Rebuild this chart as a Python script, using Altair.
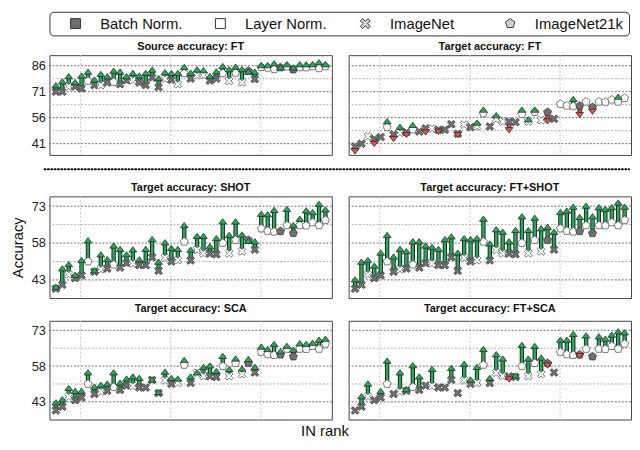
import altair as alt
import pandas as pd

# ---------------- data ----------------
IN_RANK = list(range(1, 44))
NORM = ["BN", "BN", "LN", "BN", "BN", "LN", "BN", "LN", "BN", "LN",
        "BN", "BN", "LN", "BN", "BN", "BN", "BN", "LN", "BN", "LN",
        "LN", "BN", "LN", "LN", "BN", "BN", "LN", "LN", "LN", "LN",
        "BN", "BN", "LN", "LN", "LN", "BN", "LN", "BN", "LN", "LN",
        "LN", "LN", "LN"]
PRETRAIN = ["IN", "IN", "IN", "IN", "IN", "IN21k", "IN", "IN", "IN", "IN21k",
            "IN", "IN", "IN", "IN", "IN", "IN", "IN", "IN", "IN", "IN",
            "IN21k", "IN", "IN", "IN", "IN", "IN", "IN21k", "IN", "IN21k", "IN",
            "IN21k", "IN", "IN21k", "IN21k", "IN21k", "IN21k", "IN21k", "IN21k", "IN21k", "IN21k",
            "IN21k", "IN21k", "IN21k"]

SRC_BASE = [71.0, 71.0, 74.0, 74.0, 72.9, 77.2, 74.8, 74.8, 76.3, 76.6,
            75.3, 77.6, 77.8, 76.3, 74.8, 79.1, 73.6, 78.5, 77.8, 75.3,
            81.6, 78.5, 80.4, 80.6, 77.4, 78.5, 81.6, 77.2, 81.9, 76.3,
            83.0, 78.3, 85.2, 84.8, 84.0, 85.0, 85.5, 83.8, 85.0, 85.0,
            85.6, 84.5, 85.6]
SRC_FT = [76.3, 78.5, 81.5, 78.1, 81.9, 84.1, 79.6, 82.8, 81.5, 84.7,
          84.1, 81.5, 83.4, 81.9, 83.4, 85.3, 80.4, 83.8, 83.4, 83.4,
          86.8, 83.6, 85.4, 85.0, 81.6, 84.3, 87.4, 85.6, 87.0, 85.6,
          84.1, 84.1, 87.9, 87.9, 89.0, 86.6, 88.4, 86.6, 88.4, 88.4,
          88.4, 89.6, 88.4]

TGT_BASE = [39.4, 41.0, 45.2, 43.7, 44.8, 50.5, 46.3, 47.3, 47.6, 49.2,
            48.0, 49.8, 49.7, 49.0, 49.0, 52.2, 46.7, 52.0, 50.5, 51.0,
            58.5, 50.9, 55.2, 53.8, 53.7, 53.4, 58.0, 53.8, 59.2, 54.6,
            59.2, 55.3, 63.9, 62.9, 62.6, 62.8, 65.2, 62.0, 65.2, 65.1,
            66.4, 65.2, 67.3]
TGT_FT = [35.0, 41.0, 45.2, 39.3, 44.8, 55.5, 42.1, 52.3, 44.4, 53.4,
          48.0, 45.9, 49.7, 46.3, 49.0, 52.2, 44.4, 52.0, 50.5, 54.7,
          62.2, 50.9, 59.0, 53.8, 47.2, 53.4, 62.2, 56.6, 62.2, 54.6,
          52.3, 55.3, 63.9, 62.9, 68.4, 56.0, 65.2, 57.9, 65.2, 65.1,
          66.4, 69.7, 67.3]
TGT_SHOT = [41.3, 48.8, 50.5, 46.2, 52.2, 60.2, 48.0, 54.5, 52.6, 58.1,
            56.7, 54.5, 56.5, 52.5, 56.7, 60.7, 51.5, 59.4, 57.1, 56.7,
            66.4, 56.4, 62.0, 62.0, 57.8, 61.1, 67.9, 62.4, 67.9, 62.6,
            60.0, 59.8, 71.0, 70.8, 72.6, 62.8, 73.0, 66.4, 69.0, 72.4,
            71.7, 75.1, 72.8]
TGT_FTSHOT = [44.3, 51.5, 52.2, 49.9, 55.2, 62.4, 53.6, 56.7, 55.8, 59.8,
              59.8, 58.1, 57.5, 56.7, 60.7, 61.8, 55.2, 61.1, 60.7, 61.1,
              69.0, 58.9, 64.7, 63.7, 59.8, 64.4, 70.0, 64.4, 69.4, 65.1,
              65.7, 63.7, 71.7, 72.3, 73.9, 69.7, 74.3, 70.0, 73.7, 73.0,
              73.7, 75.6, 73.9]
TGT_SCA = [43.9, 45.2, 50.0, 48.7, 48.7, 56.5, 50.5, 51.3, 51.8, 56.5,
           52.2, 53.9, 54.8, 54.2, 49.0, 53.5, 48.3, 56.8, 54.2, 53.9,
           61.7, 54.8, 56.5, 58.8, 59.4, 57.1, 63.4, 57.9, 62.3, 58.1,
           62.1, 58.8, 67.3, 66.3, 68.4, 65.4, 67.6, 66.0, 68.7, 68.4,
           68.9, 70.2, 70.6]
TGT_FTSCA = [39.8, 46.5, 51.8, 43.7, 48.7, 61.4, 46.3, 56.5, 49.5, 59.5,
             54.8, 49.8, 57.9, 49.0, 49.0, 58.4, 46.7, 60.1, 53.5, 58.8,
             66.3, 54.2, 64.1, 62.3, 51.3, 55.2, 68.0, 62.3, 67.6, 62.7,
             57.1, 55.3, 70.2, 70.2, 72.6, 61.0, 72.0, 62.0, 71.6, 70.6,
             72.3, 73.7, 73.3]

PANELS = [
    ("Source accuracy: FT", SRC_BASE, SRC_FT),
    ("Target accuracy: FT", TGT_BASE, TGT_FT),
    ("Target accuracy: SHOT", TGT_BASE, TGT_SHOT),
    ("Target accuracy: FT+SHOT", TGT_BASE, TGT_FTSHOT),
    ("Target accuracy: SCA", TGT_BASE, TGT_SCA),
    ("Target accuracy: FT+SCA", TGT_BASE, TGT_FTSCA),
]

X_DOMAIN = [0, 44]
X_GRID = [4.85, 18.9, 32.95]
TOP_DOMAIN = [34.5, 92.1]
TOP_MAJOR = [41, 56, 71, 86]
TOP_MINOR = [48.5, 63.5, 78.5]
LOW_DOMAIN = [35.6, 77.0]
LOW_MAJOR = [43, 58, 73]
LOW_MINOR = [50.5, 65.5]

LEGEND_ITEMS = ["Batch Norm.", "Layer Norm.", "ImageNet", "ImageNet21k"]

# ---------------- styling ----------------
XPATH = ("M-1,-0.55L-0.55,-1L0,-0.45L0.55,-1L1,-0.55L0.45,0L1,0.55L0.55,1"
         "L0,0.45L-0.55,1L-1,0.55L-0.45,0Z")
PENT = "M0,-1L0.951,-0.309L0.588,0.809L-0.588,0.809L-0.951,-0.309Z"
HEAD_UP = "M-1,1.35L1,1.35L0,0Z"
HEAD_DN = "M-1,-1.35L1,-1.35L0,0Z"
LEGEND_FILLS = ["#6e6e6e", "#ffffff", "#d2d2d2", "#d2d2d2"]
LEGEND_SHAPES = ["square", "square", XPATH, PENT]
GREEN = "#28a85a"
RED = "#e0525a"
OUTLINE = "#1e1e1e"
GRAY = "#707070"
W = 286

rows = []
for title, base, adapted in PANELS:
    for r, n, p, b, a in zip(IN_RANK, NORM, PRETRAIN, base, adapted):
        rows.append({"panel": title, "rank": r, "norm": n, "pretrain": p,
                     "base": b, "adapted": a})
DF = pd.DataFrame(rows)


def yaxis(major, show_title, title="Accuracy", label_expr=None):
    kw = dict(values=major, title=title,
              titleColor="#111" if show_title else "transparent",
              titleFontSize=15, titleFontWeight="normal", titlePadding=6,
              labelFontSize=13, labelColor="#222", labelPadding=4,
              ticks=False, domain=False, grid=False)
    if label_expr is not None:
        kw["labelExpr"] = label_expr
        kw["labelColor"] = "transparent"
    return alt.Axis(**kw)


def panel(title, ydom, major, minor, left, show_title, height, toff):
    xs = alt.Scale(domain=X_DOMAIN, nice=False, zero=False)
    ys = alt.Scale(domain=ydom, nice=False, zero=False)
    ax = yaxis(major, show_title) if left else None

    def X(f):
        return alt.X(f, type="quantitative", scale=xs, axis=None)

    def Y(f):
        return alt.Y(f, type="quantitative", scale=ys, axis=ax)

    base = alt.Chart(DF).transform_filter(alt.datum.panel == title)
    up = base.transform_filter("datum.adapted - datum.base > 0.5")
    dn = base.transform_filter("datum.adapted - datum.base < -0.5")
    fill = alt.condition("datum.norm == 'BN'", alt.value(GRAY), alt.value("white"))
    stroke = alt.condition("datum.norm == 'BN'", alt.value("#3a3a3a"), alt.value("#5a5a5a"))

    layers = [
        alt.Chart(pd.DataFrame({"v": X_GRID})).mark_rule(
            color="#c6c6c6", strokeDash=[2, 2], strokeWidth=1).encode(x=X("v")),
        alt.Chart(pd.DataFrame({"v": minor})).mark_rule(
            color="#b0b0b0", strokeDash=[2, 1.6], strokeWidth=1).encode(y=Y("v")),
        alt.Chart(pd.DataFrame({"v": major})).mark_rule(
            color="#707070", strokeDash=[2, 1.6], strokeWidth=1).encode(y=Y("v")),
        up.mark_rule(color=OUTLINE, strokeWidth=4.4, y2Offset=3).encode(
            x=X("rank"), y=Y("base"), y2=alt.Y2("adapted")),
        up.mark_rule(color=GREEN, strokeWidth=2.6, y2Offset=3).encode(
            x=X("rank"), y=Y("base"), y2=alt.Y2("adapted")),
        dn.mark_rule(color=OUTLINE, strokeWidth=4.4, y2Offset=-3).encode(
            x=X("rank"), y=Y("base"), y2=alt.Y2("adapted")),
        dn.mark_rule(color=RED, strokeWidth=2.6, y2Offset=-3).encode(
            x=X("rank"), y=Y("base"), y2=alt.Y2("adapted")),
        base.transform_filter("datum.pretrain == 'IN'").mark_point(
            shape=XPATH, filled=True, size=62, strokeWidth=0.8, opacity=1).encode(
            x=X("rank"), y=Y("base"), fill=fill, stroke=stroke),
        base.transform_filter("datum.pretrain == 'IN21k'").mark_point(
            shape=PENT, filled=True, size=72, strokeWidth=0.8, opacity=1).encode(
            x=X("rank"), y=Y("base"), fill=fill, stroke=stroke),
        up.mark_point(shape=HEAD_UP, filled=True, size=64, fill=GREEN,
                      stroke=OUTLINE, strokeWidth=0.7, opacity=1).encode(
            x=X("rank"), y=Y("adapted")),
        dn.mark_point(shape=HEAD_DN, filled=True, size=64, fill=RED,
                      stroke=OUTLINE, strokeWidth=0.7, opacity=1).encode(
            x=X("rank"), y=Y("adapted")),
    ]
    return alt.layer(*layers).properties(
        width=W, height=height, title=alt.TitleParams(title, offset=toff))


FULL_W = 2 * W + 15
GHOST_Y = alt.YDatum(0.5, scale=alt.Scale(domain=[0, 1]),
                     axis=yaxis([0.5], False, title="A", label_expr="'86'"))

# legend strip (drawn from the legend item list through a band scale)
leg_x = alt.X("item:N", sort=LEGEND_ITEMS,
              scale=alt.Scale(type="band", domain=LEGEND_ITEMS, paddingInner=0, paddingOuter=0),
              axis=None)
leg_df = pd.DataFrame({"item": LEGEND_ITEMS})
legend = alt.layer(
    alt.Chart(leg_df).mark_point(filled=True, opacity=1, size=100, stroke="#333",
                                 strokeWidth=1, xOffset=-47).encode(
        x=leg_x, y=GHOST_Y,
        fill=alt.Fill("item:N", scale=alt.Scale(domain=LEGEND_ITEMS, range=LEGEND_FILLS), legend=None),
        shape=alt.Shape("item:N", scale=alt.Scale(domain=LEGEND_ITEMS, range=LEGEND_SHAPES), legend=None)),
    alt.Chart(leg_df).mark_text(align="left", baseline="middle", fontSize=15,
                                color="#111", dx=-22).encode(
        x=leg_x, y=GHOST_Y, text="item:N"),
).properties(width=FULL_W, height=24,
             view=alt.ViewBackground(stroke="#333", strokeWidth=1, cornerRadius=4))

row1 = alt.hconcat(
    panel("Source accuracy: FT", TOP_DOMAIN, TOP_MAJOR, TOP_MINOR, True, False, 101, 3),
    panel("Target accuracy: FT", TOP_DOMAIN, TOP_MAJOR, TOP_MINOR, False, False, 101, 3),
    spacing=15)

sep = alt.Chart(pd.DataFrame({"v": [0.5]})).mark_rule(
    color="#111", strokeDash=[1, 2.4], strokeWidth=2, strokeCap="round").encode(
    x=alt.value(-5), x2=alt.value(FULL_W), y=GHOST_Y
).properties(width=FULL_W, height=17, view=alt.ViewBackground(strokeWidth=0))

row2 = alt.hconcat(
    panel("Target accuracy: SHOT", LOW_DOMAIN, LOW_MAJOR, LOW_MINOR, True, True, 103, 3),
    panel("Target accuracy: FT+SHOT", LOW_DOMAIN, LOW_MAJOR, LOW_MINOR, False, False, 103, 3),
    spacing=15)

row3 = alt.hconcat(
    panel("Target accuracy: SCA", LOW_DOMAIN, LOW_MAJOR, LOW_MINOR, True, False, 100, 6),
    panel("Target accuracy: FT+SCA", LOW_DOMAIN, LOW_MAJOR, LOW_MINOR, False, False, 100, 6),
    spacing=15)

chart = alt.vconcat(legend, row1, sep, row2, row3, spacing=4).properties(
    title=alt.TitleParams("IN rank", orient="bottom", anchor="middle", fontSize=15,
                          fontWeight="normal", offset=4, dx=4, color="#111"),
    padding={"left": 2, "top": 0, "right": 0, "bottom": 0},
).configure(font="Liberation Sans").configure_view(
    stroke="#444", strokeWidth=1
).configure_title(fontSize=11, fontWeight="bold", color="#111", anchor="middle")

chart.save("out.html", embed_options={"renderer": "svg", "actions": False})
